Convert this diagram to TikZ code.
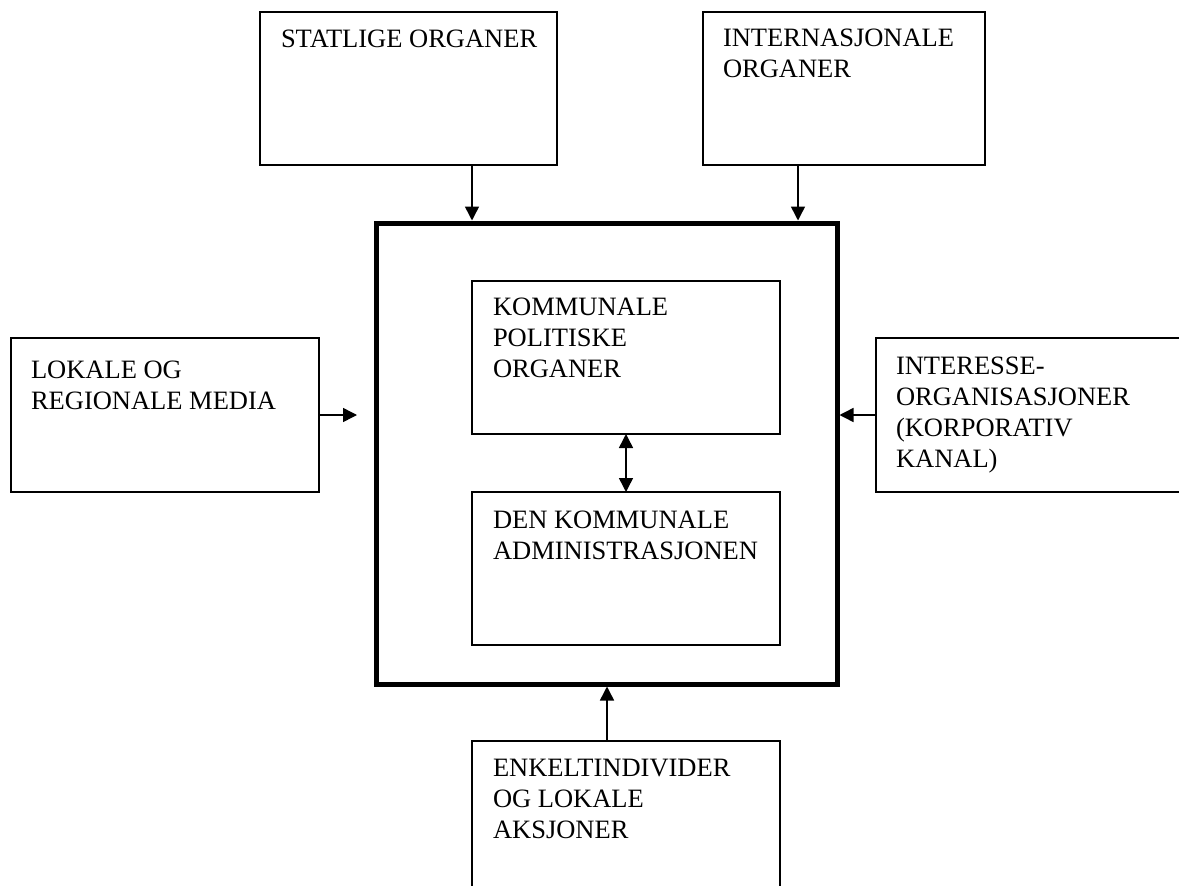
\documentclass[tikz,border=0pt]{standalone}
\usepackage{fontspec}
\setmainfont{Liberation Serif}
\usetikzlibrary{arrows.meta,calc}
\begin{document}
\begin{tikzpicture}[x=1pt,y=-1pt,
  box/.style={draw,line width=1.5pt,rectangle,inner sep=0pt,outer sep=0pt,anchor=north west},
  frame/.style={draw,line width=5pt,rectangle,inner sep=0pt,outer sep=0pt,anchor=north west},
  lbl/.style={anchor=north west,inner sep=0pt,outer sep=0pt,align=left,
    font=\fontsize{26.5pt}{31pt}\selectfont},
  arr/.style={line width=1.5pt,-{Triangle[length=14pt,width=14pt]}},
  darr/.style={line width=1.5pt,{Triangle[length=14pt,width=14pt]}-{Triangle[length=14pt,width=14pt]}}]
\clip (0,0) rectangle (1179,886);
\fill[white] (0,0) rectangle (1179,886);

% outer boxes
\node[box,minimum width=297pt,minimum height=153pt] (stat) at (260,12) {};
\node[box,minimum width=282pt,minimum height=153pt] (intl) at (703,12) {};
\node[box,minimum width=308pt,minimum height=154pt] (lok) at (11,338) {};
\node[box,minimum width=330pt,minimum height=154pt] (int) at (876,338) {};
\node[box,minimum width=308pt,minimum height=200pt] (enk) at (472,741) {};

% municipality frame with its two inner boxes
\node[frame,minimum width=461pt,minimum height=461pt] (kom) at (376,223) {};
\node[box,minimum width=308pt,minimum height=153pt] (pol) at (472,281) {};
\node[box,minimum width=308pt,minimum height=153pt] (adm) at (472,492) {};

% labels
\node[lbl] (statT) at ($(stat.north west)+(21,18)$) {STATLIGE ORGANER};
\node[lbl] (intlT) at ($(intl.north west)+(20,17)$) {INTERNASJONALE\\ORGANER};
\node[lbl] (lokT) at ($(lok.north west)+(20,23)$) {LOKALE OG\\REGIONALE MEDIA};
\node[lbl] (intT) at ($(int.north west)+(20,19)$) {INTERESSE-\\ORGANISASJONER\\(KORPORATIV\\KANAL)};
\node[lbl] (enkT) at ($(enk.north west)+(21,18)$) {ENKELTINDIVIDER\\OG LOKALE\\AKSJONER};
\node[lbl] (polT) at ($(pol.north west)+(21,17)$) {KOMMUNALE\\POLITISKE\\ORGANER};
\node[lbl] (admT) at ($(adm.north west)+(21,19)$) {DEN KOMMUNALE\\ADMINISTRASJONEN};

% connectors
\coordinate (xs) at (472,0);
\coordinate (xi) at (798,0);
\coordinate (xe) at (607,0);
\coordinate (lt) at (357,0);
\draw[arr,shorten >=2.5pt] (xs |- stat.south) -- (xs |- kom.north);
\draw[arr,shorten >=2.5pt] (xi |- intl.south) -- (xi |- kom.north);
\draw[arr] (lok.east) -- (lok.east -| lt);
\draw[arr,shorten >=2.5pt] (int.west) -- (int.west -| kom.east);
\draw[darr] (pol.south) -- (adm.north);
\draw[arr,shorten >=2.5pt] (xe |- enk.north) -- (xe |- kom.south);
\end{tikzpicture}
\end{document}
